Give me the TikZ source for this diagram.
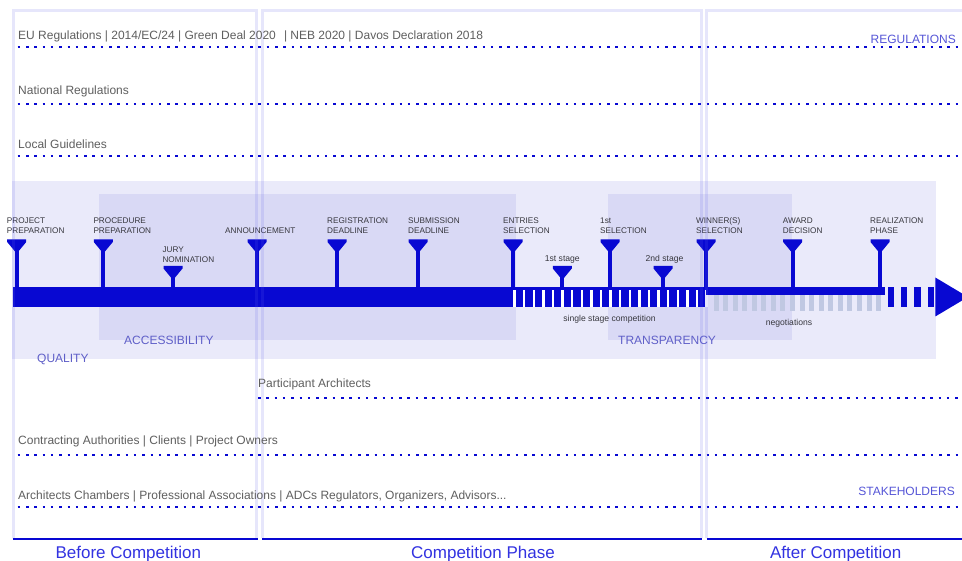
\documentclass[tikz,border=0pt]{standalone}
\usepackage{fontspec}
\setmainfont{Liberation Sans}
\definecolor{tblue}{RGB}{8,8,210}
\definecolor{qualC}{RGB}{234,234,250}
\definecolor{innerC}{RGB}{217,217,245}
\definecolor{frameC}{RGB}{100,100,235}
\definecolor{rowT}{RGB}{95,95,95}
\definecolor{markT}{RGB}{55,55,62}
\definecolor{catT}{RGB}{85,85,215}
\definecolor{valT}{RGB}{95,95,200}
\definecolor{phaseT}{RGB}{50,50,225}
\definecolor{negC}{RGB}{192,200,226}
\newcommand{\pintwo}[2]{\begin{tabular}[t]{@{}l@{}}#1\\#2\end{tabular}}
\begin{document}
\begin{tikzpicture}[x=1pt,y=-1pt,
  rowlabel/.style={anchor=base west, inner sep=0pt, text=rowT, font=\fontsize{12}{14}\selectfont},
  catlabel/.style={anchor=base east, inner sep=0pt, text=catT, font=\fontsize{12}{14}\selectfont},
  vallabel/.style={anchor=base west, inner sep=0pt, text=valT, font=\fontsize{12}{14}\selectfont},
  phaselabel/.style={anchor=base, inner sep=0pt, text=phaseT, font=\fontsize{17}{20}\selectfont},
  pinlabel/.style={anchor=base west, inner sep=0pt, text=markT, font=\fontsize{8.2}{10}\selectfont},
  smalllabel/.style={anchor=base, inner sep=0pt, text=markT, font=\fontsize{8.6}{10}\selectfont},
  dotline/.style={draw=tblue, line width=2pt, dash pattern=on 2.5pt off 5.8pt},
  phaseframe/.style={draw=frameC, draw opacity=0.16, line width=3pt},
  phaseline/.style={draw=tblue, line width=2pt},
  tallpin/.pic={\fill[tblue] (-9.5,0) -- (9.5,0) -- (9.5,2.5) -- (0,14) -- (-9.5,2.5) -- cycle;
                \fill[tblue] (-2,10) rectangle (2,48);},
  shortpin/.pic={\fill[tblue] (-9.5,0) -- (9.5,0) -- (9.5,2.5) -- (0,14) -- (-9.5,2.5) -- cycle;
                \fill[tblue] (-2,10) rectangle (2,21.5);}
]
\useasboundingbox (0,0) rectangle (962,561);
\fill[white] (0,0) rectangle (962,561);

% value areas
\fill[qualC] (12,181) rectangle (935.5,359);
\fill[innerC] (99,194) rectangle (516,340);
\fill[innerC] (608,194) rectangle (792,340);

% dotted lines
\coordinate (eu-s) at (17.7,47);    \coordinate (eu-e) at (962,47);
\coordinate (nat-s) at (17.7,103.7); \coordinate (nat-e) at (962,103.7);
\coordinate (loc-s) at (17.7,155.7); \coordinate (loc-e) at (962,155.7);
\coordinate (par-s) at (258,398.3); \coordinate (par-e) at (962,398.3);
\coordinate (con-s) at (17.7,455);  \coordinate (con-e) at (962,455);
\coordinate (cha-s) at (17.7,506.7); \coordinate (cha-e) at (962,506.7);
\draw[dotline] (eu-s) -- (eu-e);
\draw[dotline] (nat-s) -- (nat-e);
\draw[dotline] (loc-s) -- (loc-e);
\draw[dotline] (par-s) -- (par-e);
\draw[dotline] (con-s) -- (con-e);
\draw[dotline] (cha-s) -- (cha-e);

% timeline bar
\fill[tblue] (13,287) rectangle (513.3,307);
\fill[tblue] (513.3,287) rectangle (706,307);
\foreach \i in {0,...,20} \fill[white] ({513.3+9.6*\i},290.5) rectangle ++(2.4,16.5);
\fill[tblue] (706,287) rectangle (885,295);
\foreach \i in {0,...,17} \fill[negC] ({713.5+9.57*\i},295) rectangle ++(5,16);
\foreach \xb in {887.7,901,914.3,927.7} \fill[tblue] (\xb,287) rectangle ++(6.3,20);
\fill[tblue] (935.3,277.5) -- (935.3,316.5) -- (968,297) -- cycle;

% milestones
\foreach \x/\n/\a/\b in {16.7/pp/PROJECT/PREPARATION, 103.3/pr/PROCEDURE/PREPARATION,
   337/rd/REGISTRATION/DEADLINE, 418/sd/SUBMISSION/DEADLINE, 513/es/ENTRIES/SELECTION,
   610/fs/1st/SELECTION, 706/ws/WINNER(S)/SELECTION, 792.7/ad/AWARD/DECISION,
   880/rp/REALIZATION/PHASE}
{
  \pic at (\x,239.5) {tallpin};
  \node[pinlabel] (lab\n) at (\x-10,224) {\pintwo{\a}{\b}};
}
\pic at (257,239.5) {tallpin};
\node[pinlabel] (labann) at (225,234) {ANNOUNCEMENT};
\pic at (173,266) {shortpin};
\node[pinlabel] (labjury) at (162.3,252.3) {\pintwo{JURY}{NOMINATION}};
\pic at (562.3,266) {shortpin};
\node[smalllabel] (labst1) at (562.3,261.7) {1st stage};
\pic at (663,266) {shortpin};
\node[smalllabel] (labst2) at (664.5,261.7) {2nd stage};
\node[smalllabel] (single) at (609.5,321.3) {single stage competition};
\node[smalllabel] (nego) at (789,326) {negotiations};

% value labels
\node[vallabel] (qual) at (37,363) {QUALITY};
\node[vallabel] (acc) at (124,345) {ACCESSIBILITY};
\node[vallabel] (trans) at (618,345) {TRANSPARENCY};

% phase frames
\draw[phaseframe] (13,538) -- (13,11) -- (256.5,11) -- (256.5,538);
\draw[phaseframe] (262,538) -- (262,11) -- (701.3,11) -- (701.3,538);
\draw[phaseframe] (706.5,538) -- (706.5,11) -- (975,11);
\coordinate (b-s) at (12.7,538.7); \coordinate (b-e) at (257.7,538.7);
\coordinate (c-s) at (262.3,538.7); \coordinate (c-e) at (701.7,538.7);
\coordinate (a-s) at (706.7,538.7); \coordinate (a-e) at (962,538.7);
\draw[phaseline] (b-s) -- (b-e);
\draw[phaseline] (c-s) -- (c-e);
\draw[phaseline] (a-s) -- (a-e);

% row labels
\node[rowlabel] (eu) at (18,40) {EU Regulations | 2014/EC/24 | Green Deal 2020\hspace{0.4em} | NEB 2020 | Davos Declaration 2018};
\node[rowlabel] (nat) at (18,95) {National Regulations};
\node[rowlabel] (loc) at (18,149) {Local Guidelines};
\node[catlabel] (reg) at (956,44) {REGULATIONS};
\node[rowlabel] (part) at (258,388) {Participant Architects};
\node[rowlabel] (contr) at (18,445) {Contracting Authorities | Clients | Project Owners};
\node[rowlabel] (chamb) at (18,499) {Architects Chambers | Professional Associations | ADCs Regulators, Organizers, Advisors...};
\node[catlabel] (stake) at (955,496) {STAKEHOLDERS};

% phase labels
\node[phaselabel] (before) at (128.3,558.3) {Before Competition};
\node[phaselabel] (during) at (483,558.3) {Competition Phase};
\node[phaselabel] (after) at (835.7,558.3) {After Competition};
\end{tikzpicture}
\end{document}
